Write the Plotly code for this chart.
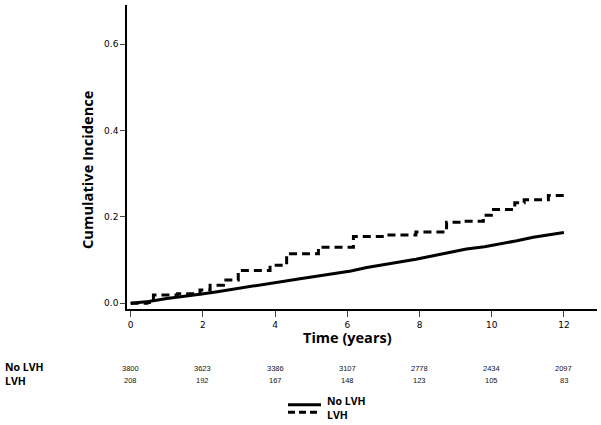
import plotly.graph_objects as go

# Solid curve: No LVH
nolvh_t = [0, 0.5, 1.0, 1.5, 1.92, 2.4, 2.84, 3.3, 3.77, 4.2, 4.69, 5.1, 5.61, 6.1, 6.54, 7.0, 7.46, 7.9, 8.38, 8.8, 9.3, 9.8, 10.23, 10.7, 11.15, 11.6, 12.0]
nolvh_y = [0, 0.004, 0.011, 0.016, 0.021, 0.027, 0.033, 0.038, 0.044, 0.050, 0.057, 0.062, 0.068, 0.075, 0.083, 0.089, 0.095, 0.102, 0.110, 0.118, 0.126, 0.131, 0.137, 0.145, 0.153, 0.159, 0.164]

# Dashed step curve: LVH
lvh_t = [0, 0.45, 0.63, 1.3, 1.92, 2.2, 2.57, 2.98, 3.86, 4.32, 5.2, 6.17, 7.1, 7.9, 8.75, 9.2, 9.77, 9.99, 10.64, 10.9, 11.57, 12.0]
lvh_y = [0, 0.002, 0.019, 0.022, 0.031, 0.042, 0.054, 0.076, 0.088, 0.115, 0.130, 0.155, 0.158, 0.165, 0.188, 0.190, 0.204, 0.217, 0.233, 0.240, 0.250, 0.250]

x_ticks = [0, 2, 4, 6, 8, 10, 12]
y_ticks = [0.0, 0.2, 0.4, 0.6]

risk_labels = ["No LVH", "LVH"]
risk_nolvh = [3800, 3623, 3386, 3107, 2778, 2434, 2097]
risk_lvh = [208, 192, 167, 148, 123, 105, 83]

series_names = ["No LVH", "LVH"]
series_dash = ["solid", "8px,5px"]

fig = go.Figure()
fig.add_trace(go.Scatter(x=nolvh_t, y=nolvh_y, mode="lines", name=series_names[0],
                         line=dict(color="black", width=3, dash=series_dash[0]), showlegend=False))
fig.add_trace(go.Scatter(x=lvh_t, y=lvh_y, mode="lines", name=series_names[1], line_shape="hv",
                         line=dict(color="black", width=3, dash=series_dash[1]), showlegend=False))

L, R, T, B = 127, 4, 5, 116
W, H = 601, 425
pw = W - L - R
ph = H - T - B


def px_x(p):
    return (p - L) / pw


def px_y(p):
    return (H - B - p) / ph


annotations = []
shapes = []
row_y = [368.5, 380]
# risk table row labels (one block of lines)
annotations.append(dict(x=px_x(4), y=px_y(sum(row_y) / 2), xref="paper", yref="paper",
                        text="<br>".join("<b>%s</b>" % lab for lab in risk_labels), align="left",
                        showarrow=False, xanchor="left", yanchor="middle",
                        font=dict(family="Open Sans", size=10.5, color="black"), borderpad=0))
for row, vals in enumerate([risk_nolvh, risk_lvh]):
    for j, v in enumerate(vals):
        annotations.append(dict(x=x_ticks[j], y=px_y(row_y[row]), xref="x", yref="paper",
                                text=str(v), showarrow=False, xanchor="center", yanchor="middle",
                                font=dict(family="Liberation Sans", size=7.5, color="#111"), borderpad=0))

# axis titles
annotations.append(dict(x=6, y=px_y(337), xref="x", yref="paper", text="<b>Time (years)</b>",
                        showarrow=False, xanchor="center", yanchor="middle",
                        font=dict(family="Open Sans", size=14.5, color="black"), borderpad=0))
annotations.append(dict(x=px_x(87), y=px_y(170), xref="paper", yref="paper", text="<b>Cumulative Incidence</b>",
                        showarrow=False, xanchor="center", yanchor="middle", textangle=-90,
                        font=dict(family="Open Sans", size=14.7, color="black"), borderpad=0))

# custom legend
leg_line_y = [404.7, 412.3]
for i, ds in enumerate(series_dash):
    shapes.append(dict(type="line", xref="paper", yref="paper", x0=px_x(288), x1=px_x(321),
                       y0=px_y(leg_line_y[i]), y1=px_y(leg_line_y[i]),
                       line=dict(color="black", width=3, dash="solid" if ds == "solid" else "7px,4px")))
annotations.append(dict(x=px_x(326), y=px_y(408), xref="paper", yref="paper",
                        text="<br>".join("<b>%s</b>" % nm for nm in series_names), align="left",
                        showarrow=False, xanchor="left", yanchor="middle",
                        font=dict(family="Open Sans", size=10.5, color="black"), borderpad=0))

fig.update_layout(
    width=W, height=H,
    margin=dict(l=L, r=R, t=T, b=B, pad=0),
    paper_bgcolor="white", plot_bgcolor="white",
    font=dict(family="DejaVu Sans", size=9, color="black"),
    xaxis=dict(range=[-0.102, 12.917], tickvals=x_ticks, ticks="outside", ticklen=6, tickwidth=1,
               showline=True, linecolor="black", linewidth=1.5, showgrid=False, zeroline=False,
               automargin=False),
    yaxis=dict(range=[-0.0132, 0.691], tickvals=y_ticks, tickformat=".1f", ticks="outside", ticklen=5, tickwidth=1,
               showline=True, linecolor="black", linewidth=1.5, showgrid=False, zeroline=False,
               automargin=False),
    showlegend=False,
    annotations=annotations,
    shapes=shapes,
)
fig.write_html("out.html", config={"displayModeBar": False},
               post_script="document.body.style.margin='0';document.body.style.padding='0';")
